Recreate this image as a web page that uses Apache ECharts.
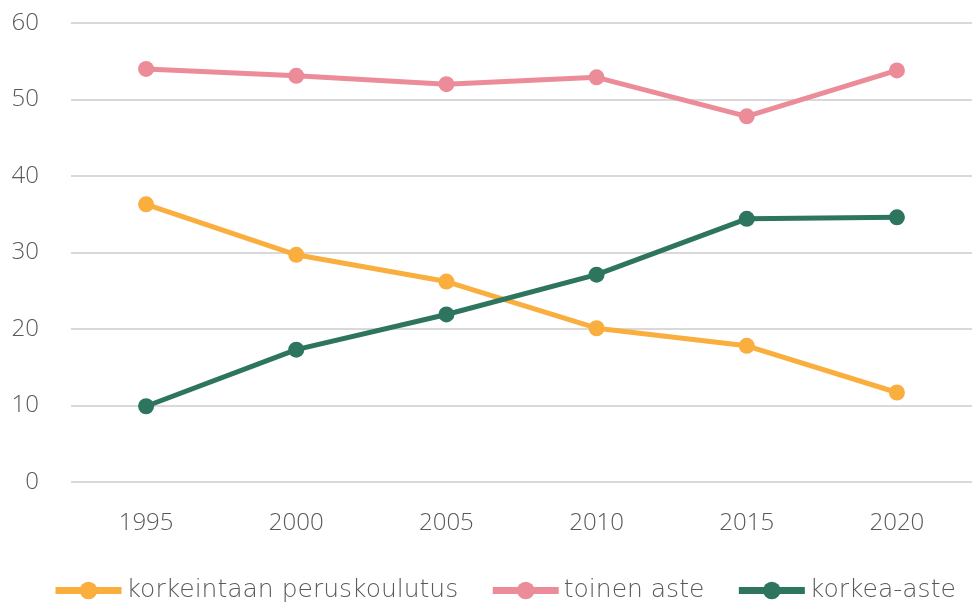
<!DOCTYPE html>
<html>
<head>
<meta charset="utf-8">
<script src="https://cdn.jsdelivr.net/npm/echarts@6/dist/echarts.min.js"></script>
<style>
  html, body { margin: 0; padding: 0; background: #fff; }
  #chart { width: 972px; height: 605px; }
</style>
</head>
<body>
<div id="chart"></div>
<script>
var years = ["1995", "2000", "2005", "2010", "2015", "2020"];
var perus = [36.3, 29.7, 26.2, 20.1, 17.8, 11.7];
var toinen = [54.0, 53.1, 52.0, 52.9, 47.8, 53.8];
var korkea = [9.9, 17.3, 21.9, 27.1, 34.4, 34.6];

var chart = echarts.init(document.getElementById("chart"));

function line(name, data, color) {
  return {
    name: name,
    type: "line",
    data: data,
    symbol: "circle",
    symbolSize: 16,
    lineStyle: { width: 5, color: color },
    itemStyle: { color: color },
  };
}

var font = "Open Sans";

chart.setOption({
  textStyle: { fontFamily: font, fontWeight: 300 },
  grid: { left: 71, right: 0, top: 23, bottom: 123 },
  legend: {
    top: 578,
    left: 52,
    width: 915,
    padding: 0,
    itemWidth: 66,
    itemHeight: 22,
    itemGap: 31,
    lineStyle: { width: 7 },
    textStyle: { fontSize: 25, color: "#595959", fontFamily: "DejaVu Sans", fontWeight: 200 },
  },
  xAxis: {
    type: "category",
    data: years,
    boundaryGap: true,
    axisLine: { show: false },
    axisTick: { show: false },
    axisLabel: { fontSize: 24, color: "#595959", margin: 29, fontFamily: font, fontWeight: 300 },
  },
  yAxis: {
    type: "value",
    min: 0,
    max: 60,
    interval: 10,
    axisLine: { show: false },
    axisTick: { show: false },
    axisLabel: { fontSize: 24, color: "#595959", margin: 32, fontFamily: font, fontWeight: 300 },
    splitLine: { lineStyle: { color: "#d9d9d9", width: 2 } },
  },
  series: [
    line("korkeintaan peruskoulutus", perus, "#F9AE3E"),
    line("toinen aste", toinen, "#EB8C98"),
    line("korkea-aste", korkea, "#2E7560"),
  ],
});
</script>
</body>
</html>
